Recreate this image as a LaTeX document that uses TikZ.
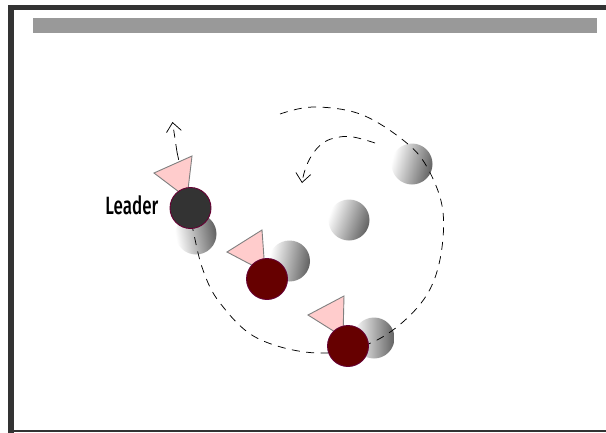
\documentclass[tikz,border=0pt]{standalone}
\usepackage{fontspec}
\usetikzlibrary{arrows.meta}
\newfontfamily\labelfont[FakeStretch=0.68]{Fira Sans Medium}
\definecolor{framegray}{HTML}{333333}
\definecolor{bargray}{HTML}{999999}
\definecolor{leaderfill}{HTML}{333333}
\definecolor{followerfill}{HTML}{660000}
\definecolor{rimcol}{HTML}{660033}
\definecolor{conepink}{HTML}{FFCCCC}
\definecolor{coneedge}{HTML}{808080}
\tikzset{
  ghost/.style={circle,inner sep=0pt,minimum size=41pt,left color=white,right color=black!62,shading angle=#1},
  ghost/.default=80,
  robot/.style={circle,inner sep=0pt,minimum size=41pt,draw=rimcol,line width=0.9pt,fill=followerfill},
  leaderrobot/.style={robot,fill=leaderfill},
  cone/.style={draw=coneedge,line width=0.9pt,fill=conepink,line join=miter},
  trail/.style={draw=black,line width=0.75pt,dash pattern=on 8pt off 6.5pt},
  opentip/.style={-{Straight Barb[length=9pt,width=15pt,line width=0.75pt]}},
}
\begin{document}
\begin{tikzpicture}[x=1pt,y=-1pt]
\useasboundingbox (0,0) rectangle (606,432);
\fill[white] (0,0) rectangle (606,432);
\draw[framegray,line width=5.6pt] (11,436) -- (11,7.6) -- (610,7.6);
\draw[framegray,line width=2pt] (8,431) -- (610,431);
\fill[bargray] (33,17.5) rectangle (597,33.2);

\node[ghost=100] (g1) at (196,234) {};
\node[ghost=80] (g2) at (289.5,261) {};
\node[ghost=90] (g3) at (374,338) {};
\node[ghost=70] (g4) at (349,220) {};
\node[ghost=75] (g5) at (412,164) {};

\draw[trail] plot[smooth,tension=0.6] coordinates {(280,114) (313,107) (360,114) (403,140) (427,167) (443,212) (438,268) (417,308) (373,342) (317,353) (257,338) (220,303) (203,270) (193,230) (184,185) (177,152)};
\draw[trail,opentip] (177,152) -- (172.5,122);
\draw[trail,opentip] plot[smooth,tension=0.7] coordinates {(375,143) (353,137) (337,137.5) (323,143) (312,155) (305,170) (302,183)};

\draw[cone] (192,156) -- (154,173) -- (187,198) -- cycle;
\draw[cone] (262,230) -- (227,252) -- (265,272) -- cycle;
\draw[cone] (344,296) -- (308,315) -- (343,337) -- cycle;

\node[leaderrobot] (r1) at (190.5,208) {};
\node[robot] (r2) at (267,279) {};
\node[robot] (r3) at (348,346) {};

\node[anchor=east,inner sep=0pt,font=\labelfont\fontsize{25}{25}\selectfont] (lead) at (158.5,205) {Leader};
\end{tikzpicture}
\end{document}
